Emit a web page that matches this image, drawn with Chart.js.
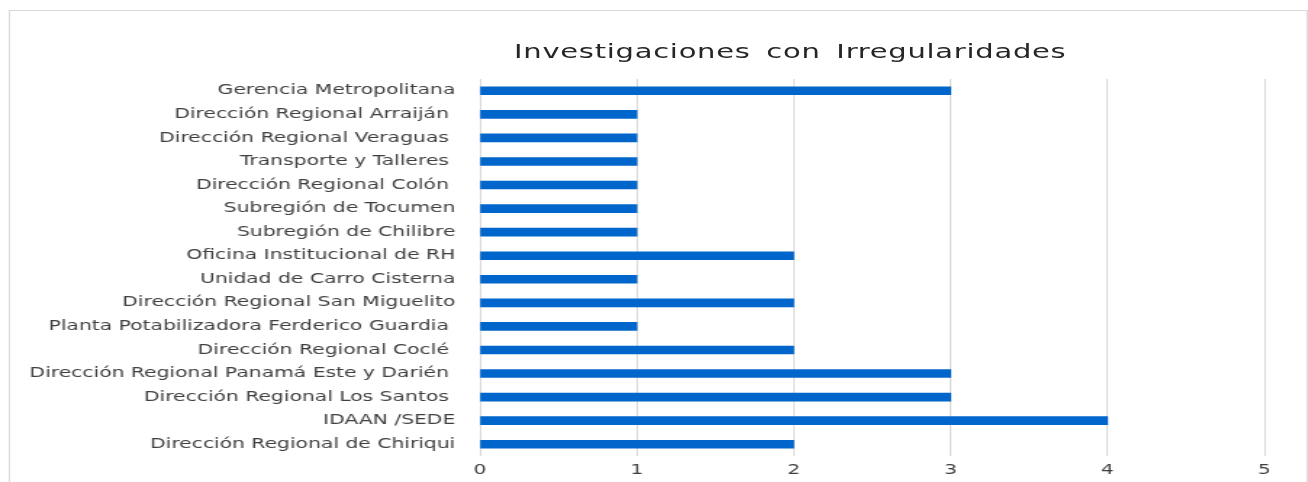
<!DOCTYPE html>
<html>
<head>
<meta charset="utf-8">
<script src="https://cdn.jsdelivr.net/npm/chart.js@4/dist/chart.umd.min.js"></script>
<style>
    body { margin: 0; background: #fff; overflow: hidden; }
    /* la imagen original viene estirada a lo ancho, así que se estira todo el bloque */
    #caja {
        position: relative; width: 902px; height: 482px;
        transform: scaleX(1.45); transform-origin: 0 0;
    }
    #grafico { position: absolute; left: 0; top: 0; width: 902px; height: 482px; }
    #marco {
        position: absolute; left: 5.5px; top: 10px; width: 894px; height: 490px;
        border: 1px solid #d9d9d9; pointer-events: none;
    }
    #titulo {
        position: absolute; left: 345px; width: 400px; top: 39px;
        text-align: center; font-family: 'DejaVu Sans', sans-serif;
        font-size: 20px; line-height: 24px; color: #262626;
        letter-spacing: 0.5px; word-spacing: 4px; white-space: nowrap;
    }
</style>
</head>
<body>
<div id="caja">
    <canvas id="grafico" width="902" height="482"></canvas>
    <div id="titulo">Investigaciones con Irregularidades</div>
    <div id="marco"></div>
</div>
<script>
var categorias = [
    "Gerencia Metropolitana",
    "Dirección Regional Arraiján ",
    "Dirección Regional Veraguas ",
    "Transporte y Talleres ",
    "Dirección Regional Colón ",
    "Subregión de Tocumen",
    "Subregión de Chilibre",
    "Oficina Institucional de RH",
    "Unidad de Carro Cisterna",
    "Dirección Regional San Miguelito",
    "Planta Potabilizadora Ferderico Guardia ",
    "Dirección Regional Coclé ",
    "Dirección Regional Panamá Este y Darién ",
    "Dirección Regional Los Santos ",
    "IDAAN /SEDE",
    "Dirección Regional de Chiriqui"
];
var investigaciones = [3, 1, 1, 1, 1, 1, 1, 2, 1, 2, 1, 2, 3, 3, 4, 2];
var ticksX = [0, 1, 2, 3, 4, 5];

var fuente = "'DejaVu Sans', sans-serif";

new Chart(document.getElementById("grafico"), {
    type: "bar",
    data: {
        labels: categorias,
        datasets: [{
            label: "Investigaciones",
            data: investigaciones,
            backgroundColor: "#0066cc",
            barThickness: 8
        }]
    },
    options: {
        indexAxis: "y",
        responsive: false,
        animation: false,
        layout: { padding: { left: 0, right: 30, top: 79, bottom: 0 } },
        plugins: {
            legend: { display: false },
            tooltip: { enabled: false }
        },
        scales: {
            x: {
                min: 0,
                max: 5,
                afterBuildTicks: function (eje) {
                    eje.ticks = ticksX.map(function (v) { return { value: v }; });
                },
                afterFit: function (eje) { eje.height = 26; },
                grid: { color: "#d9d9d9", drawTicks: false },
                border: { display: false },
                ticks: {
                    color: "#404040",
                    padding: 6,
                    font: { family: fuente, size: 14 }
                }
            },
            y: {
                afterFit: function (eje) { eje.width = 331; },
                grid: { display: false },
                border: { display: false },
                ticks: {
                    color: "#404040",
                    padding: 9,
                    font: { family: fuente, size: 14 }
                }
            }
        }
    }
});
</script>
</body>
</html>
